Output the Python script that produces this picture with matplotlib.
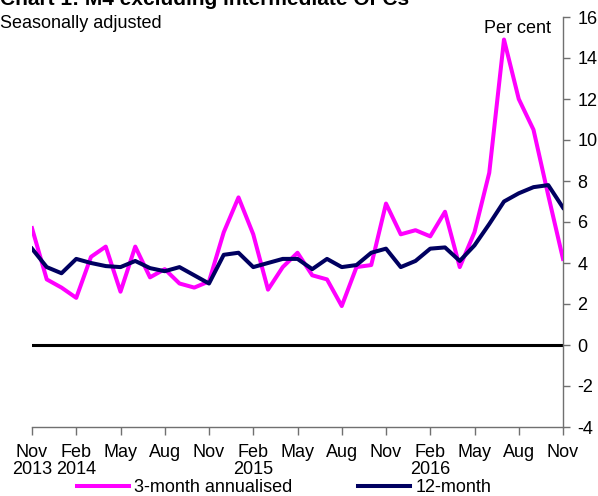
import matplotlib
matplotlib.use("Agg")
import matplotlib.pyplot as plt

plt.rcParams['font.family'] = ['Liberation Sans', 'DejaVu Sans']

months = ["Nov 2013", "Dec 2013", "Jan 2014", "Feb 2014", "Mar 2014", "Apr 2014", "May 2014",
          "Jun 2014", "Jul 2014", "Aug 2014", "Sep 2014", "Oct 2014", "Nov 2014", "Dec 2014",
          "Jan 2015", "Feb 2015", "Mar 2015", "Apr 2015", "May 2015", "Jun 2015", "Jul 2015",
          "Aug 2015", "Sep 2015", "Oct 2015", "Nov 2015", "Dec 2015", "Jan 2016", "Feb 2016",
          "Mar 2016", "Apr 2016", "May 2016", "Jun 2016", "Jul 2016", "Aug 2016", "Sep 2016",
          "Oct 2016", "Nov 2016"]

three_month = [5.7, 3.2, 2.8, 2.3, 4.3, 4.8, 2.6, 4.8, 3.3, 3.7, 3.0, 2.8, 3.1, 5.5,
               7.2, 5.4, 2.7, 3.8, 4.5, 3.4, 3.2, 1.9, 3.8, 3.9, 6.9, 5.4, 5.6, 5.3,
               6.5, 3.8, 5.5, 8.4, 14.9, 12.0, 10.5, 7.3, 4.2]

twelve_month = [4.7, 3.8, 3.5, 4.2, 4.0, 3.85, 3.8, 4.1, 3.75, 3.6, 3.8, 3.4, 3.0, 4.4,
                4.5, 3.8, 4.0, 4.2, 4.2, 3.7, 4.2, 3.8, 3.9, 4.5, 4.7, 3.8, 4.1, 4.7,
                4.76, 4.1, 4.86, 5.9, 7.0, 7.4, 7.7, 7.8, 6.7]

tick_positions = [0, 3, 6, 9, 12, 15, 18, 21, 24, 27, 30, 33, 36]
tick_labels = ["Nov\n2013", "Feb\n2014", "May", "Aug", "Nov", "Feb\n2015", "May",
               "Aug", "Nov", "Feb\n2016", "May", "Aug", "Nov"]
y_ticks = [-4, -2, 0, 2, 4, 6, 8, 10, 12, 14, 16]

FS = 13

fig = plt.figure(figsize=(5.98, 4.96), dpi=100)
ax = fig.add_axes([32/598, 1-427/496, (563-32)/598, (427-17)/496])

x = list(range(len(months)))
ax.axhline(0, color='black', lw=2.2, zorder=1)
l1, = ax.plot(x, three_month, color='#FF00FF', lw=2.9, label='3-month annualised', zorder=3)
l2, = ax.plot(x, twelve_month, color='#000060', lw=2.9, label='12-month', zorder=4)

ax.set_xlim(0, 36)
ax.set_ylim(-4, 16)
ax.set_xticks(tick_positions)
ax.set_xticklabels(tick_labels, fontsize=FS, linespacing=1.05)
ax.set_yticks(y_ticks)
ax.set_yticklabels([str(v) for v in y_ticks], fontsize=FS)
ax.yaxis.tick_right()
for s in ['top', 'left']:
    ax.spines[s].set_visible(False)
for s in ['right', 'bottom']:
    ax.spines[s].set_color('#707070')
    ax.spines[s].set_linewidth(1.0)
ax.tick_params(axis='x', direction='out', length=6, width=1, color='#707070', pad=6)
ax.tick_params(axis='y', direction='out', length=5, width=1, color='#707070', pad=5.5)

fig.text(0.0, 1-5/496, "Chart 1: M4 excluding intermediate OFCs", fontsize=15,
         fontweight='bold', ha='left', va='baseline')
fig.text(0.0, 1-28/496, "Seasonally adjusted", fontsize=FS, ha='left', va='baseline')
fig.text(551/598, 1-33/496, "Per cent", fontsize=FS, ha='right', va='baseline')

fig.legend(handles=[l1, l2], loc='center', bbox_to_anchor=(284/598, 1-488/496), ncol=2,
           frameon=False, fontsize=FS, handlelength=2.9, handletextpad=0.3,
           columnspacing=3.6, borderpad=0)

fig.savefig("out.png", dpi=100)
